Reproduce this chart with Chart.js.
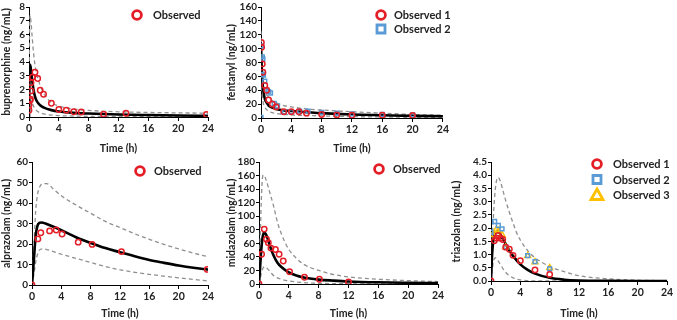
<!DOCTYPE html>
<html>
<head>
<meta charset="utf-8">
<script src="https://cdn.jsdelivr.net/npm/chart.js@4/dist/chart.umd.min.js"></script>
<style>
  body { margin: 0; background: #fff; width: 677px; height: 320px; position: relative; overflow: hidden; }
  .panel { position: absolute; }
</style>
</head>
<body>
<div class="panel" style="left:0;top:0"><canvas id="bup" width="225" height="155"></canvas></div>
<div class="panel" style="left:225px;top:0"><canvas id="fen" width="225" height="155"></canvas></div>
<div class="panel" style="left:0;top:155px"><canvas id="alp" width="225" height="165"></canvas></div>
<div class="panel" style="left:225px;top:155px"><canvas id="mid" width="225" height="165"></canvas></div>
<div class="panel" style="left:450px;top:155px"><canvas id="tri" width="227" height="165"></canvas></div>
<script>
// ---- buprenorphine ----
const bupT     = [0, 0.05, 0.1, 0.15, 0.25, 0.4, 0.6, 0.8, 1, 1.5, 2, 3, 4, 6, 8, 12, 16, 20, 24];
const bupMed   = [0, 2.2, 3.4, 3.8, 3.5, 2.8, 2.0, 1.5, 1.2, 0.85, 0.68, 0.5, 0.4, 0.3, 0.25, 0.18, 0.14, 0.11, 0.09];
const bupP95   = [0, 4.5, 6.8, 7.4, 7.0, 6.0, 4.7, 3.8, 3.2, 2.3, 1.7, 1.05, 0.8, 0.58, 0.48, 0.38, 0.33, 0.3, 0.28];
const bupP5    = [0, 0.6, 1.0, 1.2, 1.2, 1.05, 0.8, 0.6, 0.48, 0.3, 0.22, 0.14, 0.1, 0.07, 0.05, 0.04, 0.03, 0.03, 0.02];
const bupObsT  = [0, 0, 0.13, 0.2, 0.27, 0.27, 0.45, 0.8, 1.17, 1.5, 1.95, 3, 4, 5, 6, 7, 10, 13, 23.8];
const bupObs   = [0.5, 0.85, 1.2, 1.3, 1.9, 2.5, 2.9, 3.25, 2.8, 1.95, 1.65, 1.0, 0.55, 0.5, 0.38, 0.36, 0.2, 0.27, 0.18];

// ---- fentanyl ----
const fenT     = [0, 0.1, 0.25, 0.5, 0.75, 1, 1.5, 2, 3, 4, 6, 8, 12, 16, 20, 24];
const fenMed   = [105, 70, 45, 28, 22, 18, 15, 13, 11, 10, 8.5, 7, 5, 4, 3, 2.5];
const fenUpT   = [0, 0.1, 0.25, 0.5, 1, 1.5, 2, 3, 4, 6, 8, 12, 16, 20, 24];
const fenP95   = [125, 80, 55, 40, 30, 25, 22, 18, 16, 13, 11.5, 9, 7, 5, 4];
const fenLoT   = [0, 0.1, 0.25, 0.5, 1, 2, 4, 8, 12, 16, 20, 24];
const fenP5    = [85, 45, 25, 16, 10, 6.5, 4.5, 3, 2, 1.5, 1, 0.8];
const fenObs1T = [0.05, 0.08, 0.17, 0.25, 0.5, 0.75, 1, 1.5, 2, 3, 4, 5, 6, 8, 10, 12, 16, 20];
const fenObs1  = [109, 102, 78, 66, 47, 40, 26, 20, 16, 9, 9, 9, 7, 5, 4.5, 4, 4, 3.5];
const fenObs2T = [0, 0.08, 0.17, 0.25, 0.17, 0.33, 0.5, 0.75, 1, 1.25, 1.75, 2.17, 3.1, 4, 5.1, 6.2, 8, 10, 12, 16, 20];
const fenObs2  = [1, 104, 88, 85, 63, 62, 53, 40, 38, 36, 21, 17, 9, 9, 10, 10, 8, 7, 6, 5, 4.5];

// ---- alprazolam ----
const alpT     = [0, 0.25, 0.5, 0.75, 1, 1.25, 1.5, 2, 3, 4, 6, 8, 10, 12, 14, 16, 18, 20, 22, 24];
const alpMed   = [0, 12, 24, 29, 30.3, 30.5, 30.4, 29.8, 28.3, 26.7, 23.3, 20.5, 18, 16, 14, 12.2, 10.8, 9.5, 8.4, 7.5];
const alpBT    = [0, 0.25, 0.5, 0.75, 1, 1.5, 2, 3, 4, 6, 8, 10, 12, 14, 16, 18, 20, 22, 24];
const alpP95   = [0, 18, 36, 44, 47.5, 49.5, 49.5, 46.5, 43.5, 39, 35, 31, 28, 25, 22.3, 19.8, 17.6, 15.6, 13.8];
const alpP5    = [0, 5, 11, 15, 17, 17.6, 17.3, 16.2, 15, 13, 11, 9, 7.4, 6.2, 5.2, 4.3, 3.5, 2.7, 2];
const alpObsT  = [0, 0.8, 1.2, 2.4, 3.3, 4.1, 6.3, 8.2, 12.2, 23.9];
const alpObs   = [0, 22.5, 25.5, 26.4, 26.8, 24.9, 20.9, 19.8, 16.3, 7.6];

// ---- midazolam ----
const midT     = [0, 0.15, 0.3, 0.5, 0.7, 0.9, 1.2, 1.5, 2, 2.5, 3, 4, 5, 6, 8, 10, 12, 16, 20, 24];
const midMed   = [0, 25, 50, 70, 76, 74, 66, 55, 41, 31, 25, 17, 12.5, 9.5, 6.5, 5, 3.8, 2.5, 1.8, 1.3];
const midUpT   = [0, 0.15, 0.3, 0.45, 0.6, 0.8, 1, 1.25, 1.5, 2, 2.5, 3, 3.5, 4, 5, 6, 8, 10, 12, 16, 20, 24];
const midP95   = [0, 60, 120, 155, 161, 158, 152, 143, 133, 113, 90, 74, 61, 51, 38, 29, 20, 14, 10.5, 7, 5, 3.5];
const midLoT   = [0, 0.2, 0.4, 0.6, 0.8, 1, 1.5, 2, 3, 4, 6, 8, 12, 24];
const midP5    = [0, 10, 20, 24.5, 25.5, 24, 18, 12, 7, 4.5, 2, 1, 0.4, 0];
const midObsT  = [0, 0.35, 0.7, 1.0, 1.25, 1.6, 2.2, 2.7, 3.25, 4.1, 6.1, 8.1, 12];
const midObs   = [0, 44, 81, 66, 61, 53, 51, 44, 34, 18, 10, 7, 3];

// ---- triazolam ----
const triT     = [0, 0.15, 0.3, 0.5, 0.7, 0.9, 1.2, 1.5, 2, 2.5, 3, 4, 5, 6, 8, 10, 12, 16, 20, 24];
const triMed   = [0, 1.0, 1.5, 1.75, 1.85, 1.87, 1.8, 1.65, 1.4, 1.15, 0.95, 0.63, 0.42, 0.28, 0.12, 0.05, 0.02, 0.005, 0, 0];
const triUpT   = [0, 0.2, 0.4, 0.6, 0.8, 1, 1.3, 1.6, 2, 2.5, 3, 3.5, 4, 5, 6, 8, 10, 12, 16, 20, 24];
const triP95   = [0, 1.6, 2.8, 3.5, 3.85, 3.92, 3.75, 3.45, 3.05, 2.6, 2.2, 1.82, 1.55, 1.15, 0.88, 0.55, 0.35, 0.2, 0.08, 0.03, 0.01];
const triLoT   = [0, 0.2, 0.4, 0.6, 0.8, 1, 1.5, 2, 2.5, 3, 4, 6, 24];
const triP5    = [0, 0.5, 0.8, 0.88, 0.85, 0.75, 0.52, 0.33, 0.2, 0.12, 0.04, 0.005, 0];
const triObs1T = [0, 0.45, 0.75, 1.0, 1.3, 1.6, 2.0, 2.5, 3.0, 4.0, 6.0, 8.0];
const triObs1  = [0, 1.52, 1.62, 1.72, 1.62, 1.57, 1.28, 1.2, 0.97, 0.77, 0.42, 0.25];
const triObs2T = [0, 0.5, 1.0, 1.5, 2.0, 5.0, 6.0, 8.0];
const triObs2  = [1.85, 2.25, 2.1, 1.97, 1.3, 0.96, 0.73, 0.46];
const triObs3T = [0.25, 0.75, 1.0, 1.5, 2.0, 5.0, 6.0, 8.0];
const triObs3  = [1.75, 1.95, 1.9, 1.75, 1.28, 0.95, 0.72, 0.5];

const timeTicks = [0, 4, 8, 12, 16, 20, 24];

const ROJO = '#e41e26';
const AZUL = '#5b9bd5';
const AMARILLO = '#ffc000';
const FUENTE = 'Lato, "Liberation Sans", sans-serif';

function pts(t, v) { return t.map((x, i) => ({ x: x, y: v[i] })); }

function obs(label, t, v, color, style) {
  return {
    label: label, data: pts(t, v), legendText: label,
    pointStyle: style, pointRadius: style === 'triangle' ? 3.4 : 2.7,
    borderColor: color, backgroundColor: 'rgba(255,255,255,0)', borderWidth: 1.5,
    showLine: false
  };
}
function linea(t, v, dashed) {
  return {
    data: pts(t, v), showLine: true, pointRadius: 0, pointHoverRadius: 0,
    borderColor: dashed ? '#8f8f8f' : '#000', borderWidth: dashed ? 1.3 : 2.6,
    borderDash: dashed ? [4, 3] : [], cubicInterpolationMode: 'monotone', fill: false
  };
}

// leyenda dibujada dentro del area del grafico
const miniLegend = {
  id: 'miniLegend',
  afterDraw(chart, args, opts) {
    const ctx = chart.ctx;
    const items = chart.data.datasets.filter(d => d.legendText);
    ctx.save();
    items.forEach((d, i) => {
      const x = opts.x, y = opts.y + i * opts.gap;
      ctx.strokeStyle = d.borderColor;
      ctx.fillStyle = '#fff';
      ctx.lineWidth = 2.8;
      ctx.beginPath();
      if (d.pointStyle === 'rect') {
        ctx.rect(x - 4, y - 4, 8, 8);
      } else if (d.pointStyle === 'triangle') {
        ctx.moveTo(x, y - 6);
        ctx.lineTo(x + 6, y + 4.5);
        ctx.lineTo(x - 6, y + 4.5);
        ctx.closePath();
      } else {
        ctx.arc(x, y, 4.4, 0, Math.PI * 2);
      }
      ctx.fill();
      ctx.stroke();
      ctx.fillStyle = '#222';
      ctx.font = 'bold 11px ' + FUENTE;
      ctx.textBaseline = 'middle';
      ctx.fillText(d.legendText, opts.textX, y + 0.5);
    });
    ctx.restore();
  }
};

function crearPanel(id, cfg) {
  const canvas = document.getElementById(id);
  const W = canvas.width, H = canvas.height;
  new Chart(canvas.getContext('2d'), {
    type: 'scatter',
    data: { datasets: cfg.datasets },
    options: {
      responsive: false,
      animation: false,
      layout: { padding: { left: 0, top: cfg.top, right: W - cfg.right, bottom: 0 } },
      plugins: {
        legend: { display: false },
        tooltip: { enabled: false },
        miniLegend: cfg.legend
      },
      scales: {
        x: {
          type: 'linear', min: 0, max: 24,
          afterBuildTicks: s => { s.ticks = timeTicks.map(v => ({ value: v })); },
          afterFit: s => { s.height = H - cfg.bottom; },
          ticks: { autoSkip: false, color: '#222', font: { family: FUENTE, size: 10.5, weight: 'bold' }, padding: 1, maxRotation: 0 },
          grid: { drawOnChartArea: false, drawTicks: true, tickLength: 4, color: '#000' },
          border: { display: true, color: '#000', width: 1 },
          title: { display: true, text: 'Time (h)', color: '#222', font: { family: FUENTE, size: 10.5, weight: 'bold' }, padding: 0 }
        },
        y: {
          min: 0, max: cfg.yMax,
          afterFit: s => { s.width = cfg.left; },
          ticks: {
            autoSkip: false, stepSize: cfg.yStep, color: '#222', padding: 1,
            font: { family: FUENTE, size: 10, weight: 'bold' },
            callback: v => v.toFixed(cfg.dec)
          },
          grid: { drawOnChartArea: false, drawTicks: true, tickLength: 3, color: '#000' },
          border: { display: true, color: '#000', width: 1 },
          title: { display: true, text: cfg.yTitle, color: '#222', font: { family: FUENTE, size: 10.5, weight: 'bold' }, padding: 0 }
        }
      }
    },
    plugins: [miniLegend]
  });
}

crearPanel('bup', {
  yTitle: 'buprenorphine (ng/mL)', yMax: 8, yStep: 1, dec: 0,
  left: 29, right: 208, top: 5, bottom: 117,
  legend: { x: 137, y: 15, gap: 14, textX: 153 },
  datasets: [
    obs('Observed', bupObsT, bupObs, ROJO, 'circle'),
    linea(bupT, bupMed, false),
    linea(bupT, bupP95, true),
    linea(bupT, bupP5, true)
  ]
});

crearPanel('fen', {
  yTitle: 'fentanyl (ng/mL)', yMax: 160, yStep: 20, dec: 0,
  left: 36, right: 220, top: 6, bottom: 118,
  legend: { x: 156, y: 15, gap: 14, textX: 169 },
  datasets: [
    obs('Observed 1', fenObs1T, fenObs1, ROJO, 'circle'),
    obs('Observed 2', fenObs2T, fenObs2, AZUL, 'rect'),
    linea(fenT, fenMed, false),
    linea(fenUpT, fenP95, true),
    linea(fenLoT, fenP5, true)
  ]
});

crearPanel('alp', {
  yTitle: 'alprazolam (ng/mL)', yMax: 60, yStep: 10, dec: 0,
  left: 32, right: 208, top: 7, bottom: 130,
  legend: { x: 140, y: 16, gap: 14, textX: 154 },
  datasets: [
    obs('Observed', alpObsT, alpObs, ROJO, 'circle'),
    linea(alpT, alpMed, false),
    linea(alpBT, alpP95, true),
    linea(alpBT, alpP5, true)
  ]
});

crearPanel('mid', {
  yTitle: 'midazolam (ng/mL)', yMax: 180, yStep: 20, dec: 0,
  left: 34, right: 213, top: 7, bottom: 129,
  legend: { x: 154, y: 14, gap: 14, textX: 168 },
  datasets: [
    obs('Observed', midObsT, midObs, ROJO, 'circle'),
    linea(midT, midMed, false),
    linea(midUpT, midP95, true),
    linea(midLoT, midP5, true)
  ]
});

crearPanel('tri', {
  yTitle: 'triazolam (ng/mL)', yMax: 4.5, yStep: 0.5, dec: 1,
  left: 41, right: 217, top: 7, bottom: 126,
  legend: { x: 147, y: 9, gap: 15.5, textX: 163 },
  datasets: [
    obs('Observed 1', triObs1T, triObs1, ROJO, 'circle'),
    obs('Observed 2', triObs2T, triObs2, AZUL, 'rect'),
    obs('Observed 3', triObs3T, triObs3, AMARILLO, 'triangle'),
    linea(triT, triMed, false),
    linea(triUpT, triP95, true),
    linea(triLoT, triP5, true)
  ]
});
</script>
</body>
</html>
